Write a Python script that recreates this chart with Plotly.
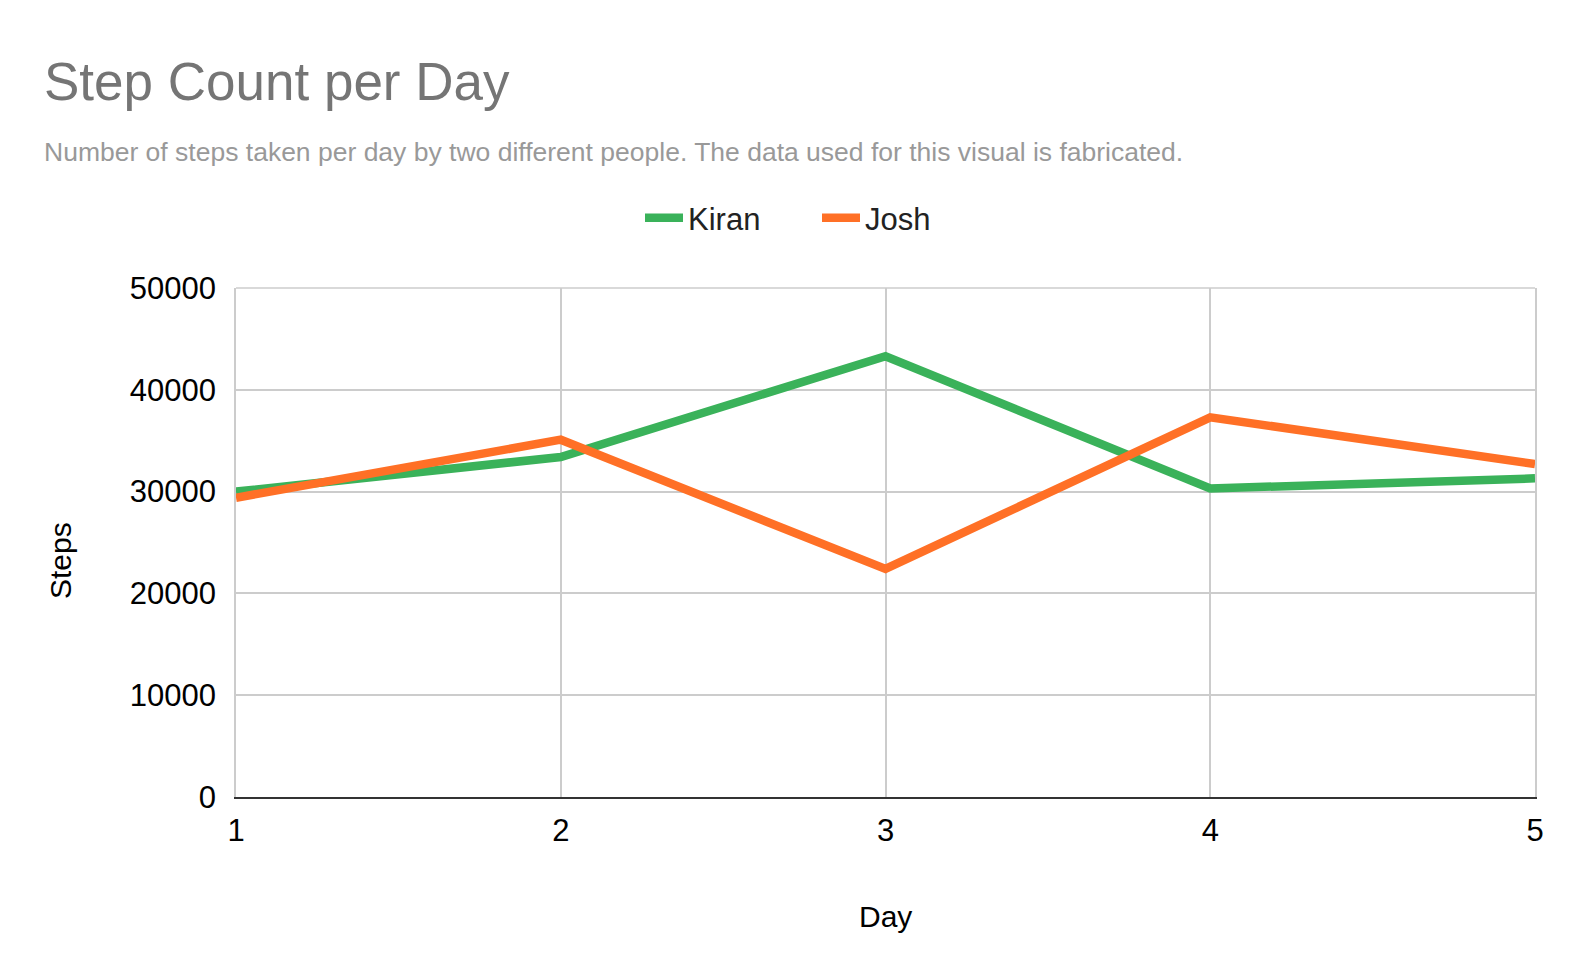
import plotly.graph_objects as go

# ---- data ----
days = [1, 2, 3, 4, 5]
day_labels = ["1", "2", "3", "4", "5"]
kiran_steps = [30000, 33400, 43300, 30300, 31300]
josh_steps = [29400, 35100, 22400, 37300, 32700]
y_ticks = [0, 10000, 20000, 30000, 40000, 50000]
y_labels = ["0", "10000", "20000", "30000", "40000", "50000"]

GREEN = "#3ab25a"
ORANGE = "#ff7026"
GRID = "#cccccc"
FONT = "Liberation Sans, Arial, Helvetica, sans-serif"

W, H = 1582, 980
L, R, T, B = 236, 47, 288, 183
PW, PH = W - L - R, H - T - B


def px_x(px):
    return (px - L) / PW


def px_y(py):
    return (H - B - py) / PH


fig = go.Figure()
fig.add_trace(go.Scatter(x=days, y=kiran_steps, mode="lines", name="Kiran",
                         line=dict(color=GREEN, width=8.5)))
fig.add_trace(go.Scatter(x=days, y=josh_steps, mode="lines", name="Josh",
                         line=dict(color=ORANGE, width=8.5)))

fig.update_layout(
    width=W, height=H, autosize=False,
    margin=dict(l=L, r=R, t=T, b=B, pad=0),
    paper_bgcolor="white", plot_bgcolor="white",
    font=dict(family=FONT, size=30, color="#000000"),
    title=dict(text="Step Count per Day", xref="container", yref="container",
               x=44 / W, xanchor="left", y=1 - 81 / H, yanchor="middle",
               font=dict(family=FONT, size=53, color="#757575")),
    showlegend=True,
    legend=dict(orientation="h", xref="container", yref="container",
                x=640 / W, xanchor="left", y=1 - 218 / H, yanchor="middle",
                font=dict(family=FONT, size=31, color="#222222"),
                entrywidth=124, itemwidth=38, bgcolor="rgba(0,0,0,0)"),
    xaxis=dict(range=[1, 5], tickmode="array", tickvals=days, ticktext=day_labels,
               showgrid=True, gridcolor=GRID, gridwidth=1.7,
               showline=True, linecolor="#333333", linewidth=2, zeroline=False,
               ticks="", ticklabelstandoff=5,
               tickfont=dict(family=FONT, size=31, color="#000000")),
    yaxis=dict(range=[0, 50000], tickmode="array", tickvals=y_ticks, ticktext=y_labels,
               showgrid=True, gridcolor=GRID, gridwidth=1.7,
               showline=True, mirror=True, linecolor=GRID, linewidth=1.7,
               zeroline=False, ticks="", ticklabelstandoff=12,
               tickfont=dict(family=FONT, size=31, color="#000000")),
    shapes=[
        dict(type="line", xref="paper", yref="paper", x0=0, x1=1, y0=1, y1=1,
             line=dict(color=GRID, width=1.7), layer="below"),
    ],
    annotations=[
        dict(text="Number of steps taken per day by two different people. The data used for this visual is fabricated.",
             xref="paper", yref="paper", x=px_x(42), y=px_y(152), xanchor="left", yanchor="middle",
             showarrow=False, font=dict(family=FONT, size=26.5, color="#999999")),
        dict(text="Steps", xref="paper", yref="paper", x=px_x(60), y=px_y(561),
             xanchor="center", yanchor="middle", textangle=-90, showarrow=False,
             font=dict(family=FONT, size=30, color="#000000")),
        dict(text="Day", xref="paper", yref="paper", x=px_x(885), y=px_y(916),
             xanchor="center", yanchor="middle", showarrow=False,
             font=dict(family=FONT, size=30, color="#000000")),
    ],
)

fig.write_html("out.html", config={"displayModeBar": False},
               post_script="document.body.style.margin='0';document.body.style.overflow='hidden';")
